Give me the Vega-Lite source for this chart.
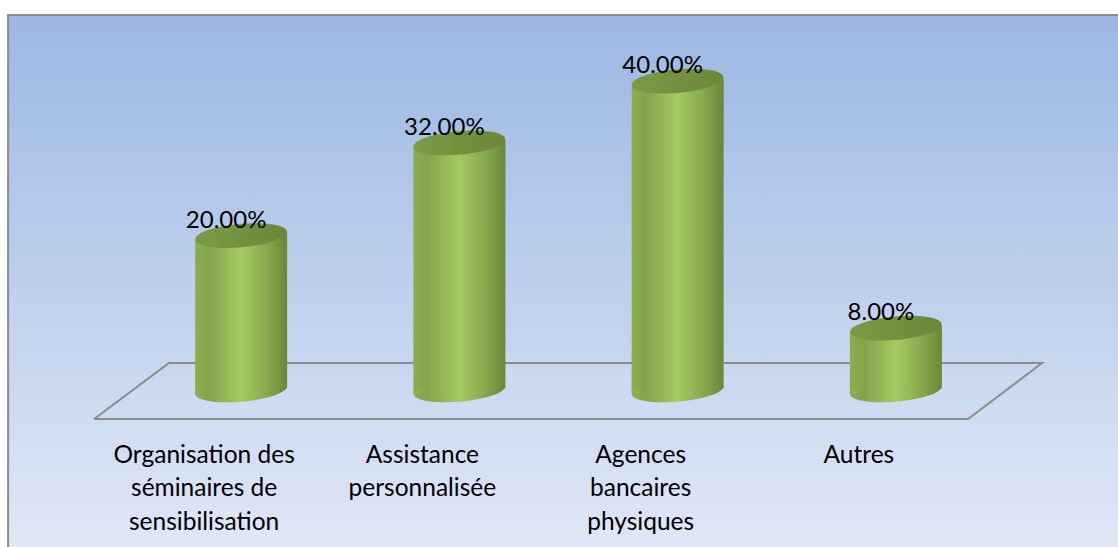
{
"$schema":"https://vega.github.io/schema/vega-lite/v6.json",
"width":1118,"height":547,"autosize":{"type":"none"},"padding":0,"background":"white",
"config":{"view":{"stroke":null}},
"datasets":{
"bars":[{"cat":"Organisation des|séminaires de|sensibilisation","value":20},{"cat":"Assistance|personnalisée","value":32},{"cat":"Agences|bancaires|physiques","value":40},{"cat":"Autres","value":8}],
"frame":[{"x0":-0.067,"x1":5.1,"y0":48.7,"y1":-21}],
"floor":[{"o":1,"x":0.327,"y":-3.63},{"o":2,"x":4.33,"y":-3.63},{"o":3,"x":4.669,"y":3.63},{"o":4,"x":0.670,"y":3.63},{"o":5,"x":0.327,"y":-3.63}]
},
"resolve":{"scale":{"x":"independent"}},
"layer":[
{"data":{"name":"frame"},
 "mark":{"type":"rect","stroke":"#8c8c8c","strokeWidth":2,"fill":{"gradient":"linear","x1":0,"y1":0,"x2":0,"y2":1,"stops":[{"offset":0,"color":"#9cb7e3"},{"offset":1,"color":"#e0e8f6"}]}},
 "encoding":{"x":{"field":"x0","type":"quantitative","axis":null,"scale":{"domain":[-0.104,5.017],"nice":false,"zero":false}},"x2":{"field":"x1"},
 "y":{"field":"y0","type":"quantitative","axis":null,"scale":{"domain":[-20.207,50.648],"nice":false,"zero":false}},"y2":{"field":"y1"}}},
{"data":{"name":"floor"},
 "mark":{"type":"line","stroke":"#8c8c8c","strokeWidth":2,"clip":false},
 "encoding":{"x":{"field":"x","type":"quantitative","axis":null,"scale":{"domain":[-0.104,5.017],"nice":false,"zero":false}},
 "y":{"field":"y","type":"quantitative","axis":null},"order":{"field":"o","type":"quantitative"}}},
{"data":{"name":"bars"},
 "layer":[
 {"mark":{"type":"point","filled":true,"opacity":1,"size":8464,"yOffset":-1,"shape":"M-0.996,0.087 A1,0.25,-5,1,1,0.996,-0.087 A1,0.25,-5,1,1,-0.996,0.087Z",
   "fill":{"gradient":"linear","x1":0,"y1":0,"x2":1,"y2":0,"stops":[{"offset":0,"color":"#8dad50"},{"offset":0.15,"color":"#84a34b"},{"offset":0.5,"color":"#a5ca62"},{"offset":0.8,"color":"#86a54b"},{"offset":1,"color":"#6a8738"}]}},
  "encoding":{"y":{"datum":0,"type":"quantitative"}}},
 {"mark":{"type":"bar","size":8,"xOffset":-42,"yOffset":-5,"y2Offset":3,"fill":"#8dad50"},
  "encoding":{"y":{"datum":0,"type":"quantitative"},"y2":{"datum":0}}},
 {"mark":{"type":"bar","size":8,"xOffset":42,"yOffset":-4,"y2Offset":5,"fill":"#6c8939"},
  "encoding":{"y":{"field":"value","type":"quantitative"},"y2":{"field":"value"}}},
 {"mark":{"type":"bar","size":92,"yOffset":3,"y2Offset":-3,"fill":{"gradient":"linear","x1":0,"y1":0,"x2":1,"y2":0,"stops":[{"offset":0,"color":"#8dad50"},{"offset":0.15,"color":"#84a34b"},{"offset":0.5,"color":"#a5ca62"},{"offset":0.8,"color":"#86a54b"},{"offset":1,"color":"#6a8738"}]}},
  "encoding":{"y":{"field":"value","type":"quantitative"},"y2":{"datum":0}}},
 {"mark":{"type":"point","filled":true,"opacity":1,"size":8464,"yOffset":-1,"shape":"M-0.996,0.087 A1,0.25,-5,1,1,0.996,-0.087 A1,0.25,-5,1,1,-0.996,0.087Z",
   "fill":{"gradient":"linear","x1":0,"y1":0,"x2":1,"y2":0,"stops":[{"offset":0,"color":"#7c9a45"},{"offset":1,"color":"#6c8739"}]}},
  "encoding":{"y":{"field":"value","type":"quantitative"}}},
 {"transform":[{"calculate":"datum.value/100","as":"share"}],
  "mark":{"type":"text","font":"Lato","fontSize":24,"color":"black","dy":-16,"dx":-15},
  "encoding":{"y":{"field":"value","type":"quantitative"},"text":{"field":"share","type":"quantitative","format":".2%"}}}
 ],
 "encoding":{"x":{"field":"cat","type":"nominal","sort":null,"title":null,
   "scale":{"range":[132,1005],"paddingInner":0,"paddingOuter":0},
   "axis":{"orient":"bottom","offset":-110,"domain":false,"ticks":false,"grid":false,"labelAngle":0,"labelOffset":-37,"labelPadding":6,"labelFont":"Lato","labelFontSize":24.5,"labelColor":"black","labelLimit":400,"labelLineHeight":33.5,"labelOverlap":false,"labelBaseline":"top","labelExpr":"split(datum.label,'|')","zindex":1}}}
}
]
}
